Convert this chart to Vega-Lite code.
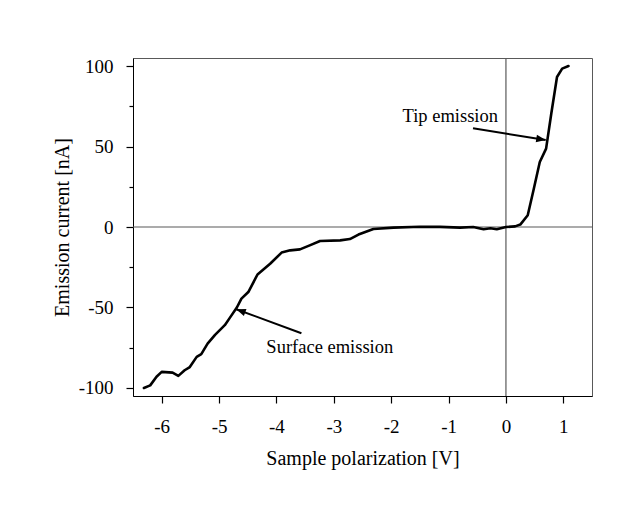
{
  "$schema": "https://vega.github.io/schema/vega-lite/v6.json",
  "autosize": {"type": "none"},
  "width": 459,
  "height": 338,
  "padding": {"left": 133, "top": 58, "right": 43, "bottom": 113},
  "background": "white",
  "config": {
    "view": {"stroke": "#595959", "strokeWidth": 1},
    "font": "Liberation Serif",
    "axis": {
      "labelFont": "Liberation Serif",
      "titleFont": "Liberation Serif",
      "labelColor": "black",
      "titleColor": "black",
      "labelFontSize": 19,
      "titleFontSize": 20,
      "titleFontWeight": "normal",
      "domainColor": "black",
      "domainWidth": 1,
      "tickColor": "black",
      "tickWidth": 1.2,
      "grid": false
    }
  },
  "datasets": {
    "curve": [
      {"v": -6.31, "i": -100},
      {"v": -6.2, "i": -98.4},
      {"v": -6.09, "i": -93},
      {"v": -6.0, "i": -90},
      {"v": -5.81, "i": -90.5},
      {"v": -5.71, "i": -92.5},
      {"v": -5.6, "i": -89},
      {"v": -5.51, "i": -87},
      {"v": -5.39, "i": -80.7},
      {"v": -5.31, "i": -79},
      {"v": -5.2, "i": -72.5},
      {"v": -5.07, "i": -67},
      {"v": -4.9, "i": -61},
      {"v": -4.81, "i": -56.3},
      {"v": -4.69, "i": -50},
      {"v": -4.61, "i": -44.5},
      {"v": -4.49, "i": -40.4},
      {"v": -4.33, "i": -29.5},
      {"v": -4.11, "i": -22.8},
      {"v": -3.91, "i": -15.9},
      {"v": -3.76, "i": -14.5},
      {"v": -3.59, "i": -13.9},
      {"v": -3.42, "i": -11.4},
      {"v": -3.24, "i": -8.7},
      {"v": -2.89, "i": -8.3},
      {"v": -2.72, "i": -7.5},
      {"v": -2.57, "i": -4.7},
      {"v": -2.31, "i": -1.2},
      {"v": -1.96, "i": -0.4},
      {"v": -1.5, "i": 0.2},
      {"v": -1.15, "i": 0.1},
      {"v": -0.8, "i": -0.4},
      {"v": -0.57, "i": 0},
      {"v": -0.39, "i": -1.4},
      {"v": -0.27, "i": -0.8},
      {"v": -0.16, "i": -1.4},
      {"v": 0.0, "i": 0},
      {"v": 0.16, "i": 0.4},
      {"v": 0.25, "i": 1.5},
      {"v": 0.38, "i": 7.3},
      {"v": 0.48, "i": 22.8},
      {"v": 0.59, "i": 40.4},
      {"v": 0.7, "i": 48.7},
      {"v": 0.79, "i": 70.4},
      {"v": 0.89, "i": 93.2},
      {"v": 0.98, "i": 98.4},
      {"v": 1.09, "i": 100}
    ],
    "notes": [
      {"label": "Tip emission", "tx": -0.97, "ty": 65.4, "x0": -0.574, "y0": 61.3, "x1": 0.693, "y1": 54.1},
      {"label": "Surface emission", "tx": -3.07, "ty": -78.3, "x0": -3.565, "y0": -66.0, "x1": -4.7, "y1": -51.1}
    ]
  },
  "layer": [
    {
      "data": {"values": [{"z": 0}]},
      "mark": {"type": "rule", "color": "#595959", "strokeWidth": 1.2},
      "encoding": {"x": {"field": "z", "type": "quantitative", "scale": {"domain": [-6.5, 1.5]}}}
    },
    {
      "data": {"values": [{"z": 0}]},
      "mark": {"type": "rule", "color": "#595959", "strokeWidth": 1.2},
      "encoding": {"y": {"field": "z", "type": "quantitative", "scale": {"domain": [-105, 105]}}}
    },
    {
      "data": {"name": "curve"},
      "mark": {"type": "line", "color": "black", "strokeWidth": 2.6, "strokeJoin": "round", "strokeCap": "round"},
      "encoding": {
        "x": {
          "field": "v", "type": "quantitative",
          "scale": {"domain": [-6.5, 1.5], "nice": false, "zero": false},
          "axis": {
            "title": "Sample polarization [V]",
            "values": [-6, -5.5, -5, -4.5, -4, -3.5, -3, -2.5, -2, -1.5, -1, -0.5, 0, 0.5, 1, 1.5],
            "labelExpr": "datum.value % 1 === 0 ? toString(datum.value) : ''",
            "tickSize": {"condition": {"test": "datum.value % 1 === 0", "value": 7}, "value": 4},
            "labelPadding": 14,
            "titlePadding": 12,
            "labelFlush": false,
            "labelOverlap": false
          }
        },
        "y": {
          "field": "i", "type": "quantitative",
          "scale": {"domain": [-105, 105], "nice": false, "zero": false},
          "axis": {
            "title": "Emission current [nA]",
            "values": [-100, -75, -50, -25, 0, 25, 50, 75, 100],
            "labelExpr": "datum.value % 50 === 0 ? toString(datum.value) : ''",
            "tickSize": {"condition": {"test": "datum.value % 50 === 0", "value": 7}, "value": 4},
            "labelPadding": 13,
            "titlePadding": 6,
            "labelFlush": false,
            "labelOverlap": false
          }
        }
      }
    },
    {
      "data": {"name": "notes"},
      "mark": {"type": "rule", "color": "black", "strokeWidth": 2},
      "encoding": {
        "x": {"field": "x0", "type": "quantitative"},
        "y": {"field": "y0", "type": "quantitative"},
        "x2": {"field": "x1"},
        "y2": {"field": "y1"}
      }
    },
    {
      "data": {"name": "notes"},
      "transform": [{"filter": "datum.label === 'Tip emission'"}],
      "mark": {"type": "point", "shape": "M0,0L-0.4,1L0.4,1Z", "filled": true, "color": "black", "opacity": 1, "size": 360, "angle": 99},
      "encoding": {
        "x": {"field": "x1", "type": "quantitative"},
        "y": {"field": "y1", "type": "quantitative"}
      }
    },
    {
      "data": {"name": "notes"},
      "transform": [{"filter": "datum.label === 'Surface emission'"}],
      "mark": {"type": "point", "shape": "M0,0L-0.4,1L0.4,1Z", "filled": true, "color": "black", "opacity": 1, "size": 360, "angle": 290},
      "encoding": {
        "x": {"field": "x1", "type": "quantitative"},
        "y": {"field": "y1", "type": "quantitative"}
      }
    },
    {
      "data": {"name": "notes"},
      "mark": {"type": "text", "font": "Liberation Serif", "fontSize": 18.5, "color": "black", "align": "center", "baseline": "alphabetic"},
      "encoding": {
        "x": {"field": "tx", "type": "quantitative"},
        "y": {"field": "ty", "type": "quantitative"},
        "text": {"field": "label"}
      }
    }
  ]
}
